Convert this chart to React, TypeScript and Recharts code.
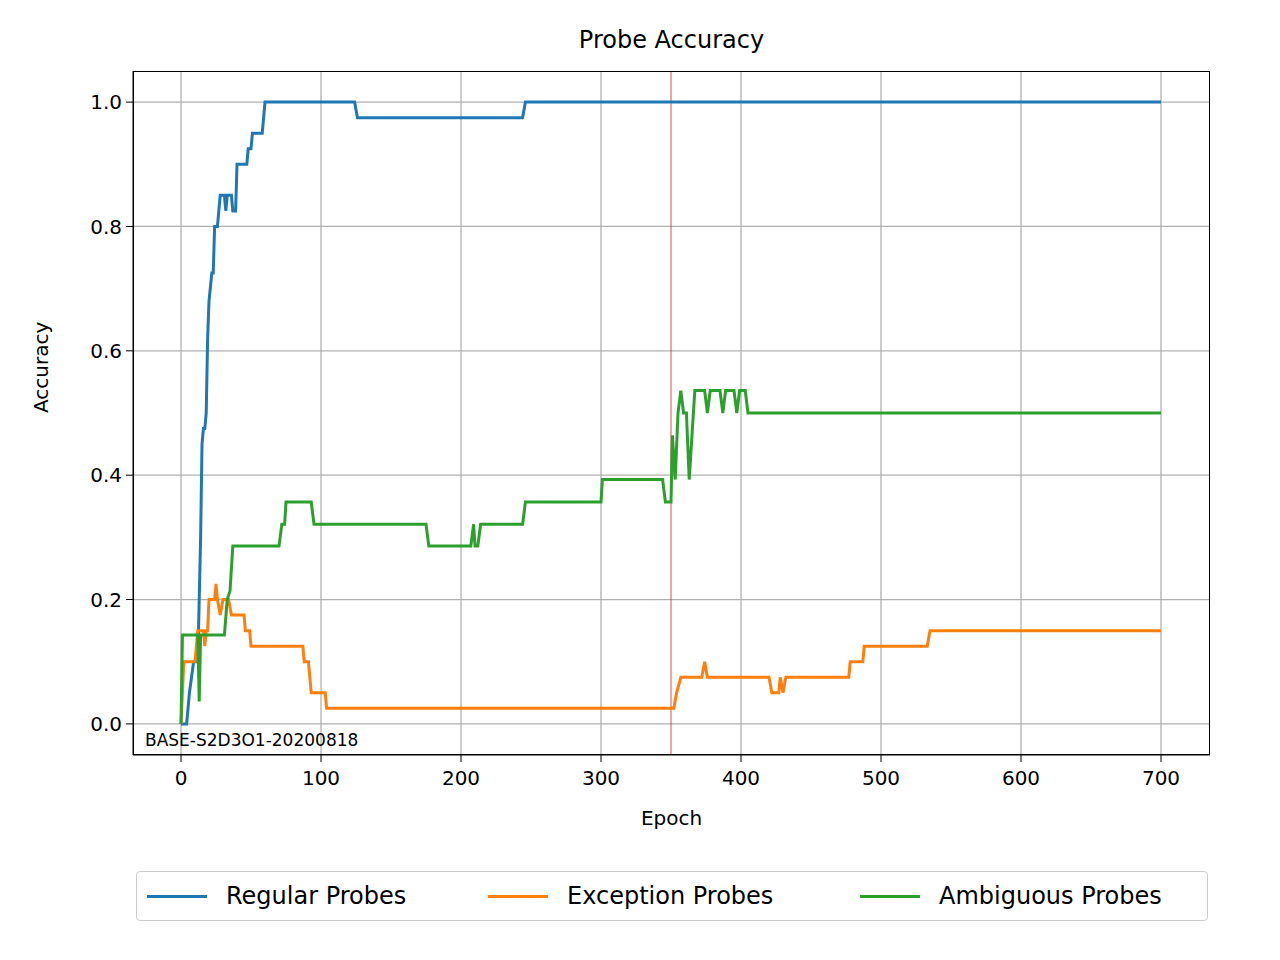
import { LineChart, Line, XAxis, YAxis, CartesianGrid, ReferenceLine } from 'recharts';

type Pt = { epoch: number; acc: number };
const mk = (pts: number[][]): Pt[] => pts.map(([epoch, acc]) => ({ epoch, acc }));

const regularProbes = mk([
  [0, 0], [4, 0], [6, 0.05], [9, 0.1], [12, 0.1], [14, 0.3], [15, 0.45], [16, 0.475], [17, 0.475],
  [18, 0.5], [19, 0.62], [20, 0.68], [22, 0.725], [23, 0.725], [24, 0.8], [26, 0.8], [28, 0.85],
  [31, 0.85], [32, 0.825], [33, 0.85], [36, 0.85], [37, 0.825], [39, 0.825], [40, 0.9], [47, 0.9],
  [48, 0.925], [50, 0.925], [51, 0.95], [58, 0.95], [60, 1.0], [124, 1.0], [126, 0.975],
  [244, 0.975], [246, 1.0], [700, 1.0],
]);

const exceptionProbes = mk([
  [0, 0], [2, 0.1], [10, 0.1], [11, 0.125], [12, 0.15], [16, 0.15], [17, 0.125], [18, 0.15],
  [19, 0.15], [20, 0.2], [24, 0.2], [25, 0.225], [26, 0.2], [28, 0.175], [30, 0.2], [34, 0.2],
  [36, 0.175], [45, 0.175], [46, 0.15], [49, 0.15], [50, 0.125], [87, 0.125], [88, 0.1], [91, 0.1],
  [93, 0.05], [103, 0.05], [104, 0.025], [352, 0.025], [354, 0.05], [357, 0.075], [372, 0.075],
  [374, 0.1], [376, 0.075], [420, 0.075], [422, 0.05], [427, 0.05], [428, 0.075], [430, 0.05],
  [432, 0.075], [477, 0.075], [478, 0.1], [487, 0.1], [488, 0.125], [533, 0.125], [535, 0.15],
  [700, 0.15],
]);

const ambiguousProbes = mk([
  [0, 0], [1, 0.143], [12, 0.143], [13, 0.036], [14, 0.143], [31, 0.143], [33, 0.2], [35, 0.214],
  [37, 0.286], [70, 0.286], [72, 0.321], [74, 0.321], [75, 0.357], [93, 0.357], [95, 0.321],
  [175, 0.321], [177, 0.286], [207, 0.286], [209, 0.321], [210, 0.286], [212, 0.286], [214, 0.321],
  [244, 0.321], [246, 0.357], [300, 0.357], [301, 0.393], [344, 0.393], [346, 0.357], [350, 0.357],
  [351, 0.464], [353, 0.393], [355, 0.5], [357, 0.536], [359, 0.5], [361, 0.5], [363, 0.393],
  [367, 0.536], [374, 0.536], [376, 0.5], [378, 0.536], [385, 0.536], [387, 0.5], [389, 0.536],
  [395, 0.536], [397, 0.5], [399, 0.536], [403, 0.536], [405, 0.5], [700, 0.5],
]);

const xTicks = [0, 100, 200, 300, 400, 500, 600, 700];
const yTicks = [0, 0.2, 0.4, 0.6, 0.8, 1.0];

const series = [
  { name: 'Regular Probes', data: regularProbes, color: '#1f77b4', left: 146 },
  { name: 'Exception Probes', data: exceptionProbes, color: '#ff7f0e', left: 487 },
  { name: 'Ambiguous Probes', data: ambiguousProbes, color: '#2ca02c', left: 859 },
];

const font = 'DejaVu Sans, sans-serif';
const tick = { fill: '#000', fontSize: 20, fontFamily: font };

export default function App() {
  return (
    <div style={{ position: 'absolute', left: 0, top: 0, width: 1280, height: 960, background: '#fff', fontFamily: font }}>
      <div style={{ position: 'absolute', top: 26, left: 133, width: 1077, textAlign: 'center', fontSize: 24 }}>
        Probe Accuracy
      </div>
      <LineChart width={1280} height={960} margin={{ top: 71, left: 63, right: 70, bottom: 145 }}>
        <CartesianGrid stroke="#b0b0b0" strokeWidth={1.3} horizontalValues={yTicks} verticalValues={xTicks} />
        <XAxis
          dataKey="epoch" type="number" domain={[-34.3, 735]} ticks={xTicks} allowDataOverflow
          height={60} tick={tick} tickSize={7} stroke="#000" tickMargin={9}
          label={{ value: 'Epoch', position: 'insideBottom', offset: -10, fill: '#000', fontSize: 20, fontFamily: font }}
        />
        <YAxis
          type="number" domain={[-0.05, 1.05]} ticks={yTicks} allowDataOverflow width={70}
          tick={tick} tickSize={7} stroke="#000" tickMargin={4} tickFormatter={(v: number) => v.toFixed(1)}
          label={{ value: 'Accuracy', angle: -90, position: 'insideLeft', offset: -22, fill: '#000', fontSize: 20, fontFamily: font }}
        />
        <ReferenceLine x={350} stroke="#d00000" strokeWidth={0.7} />
        {series.map((s) => (
          <Line key={s.name} data={s.data} dataKey="acc" name={s.name} type="linear" stroke={s.color}
            strokeWidth={3} dot={false} isAnimationActive={false} />
        ))}
      </LineChart>
      <div style={{ position: 'absolute', left: 133, top: 71, width: 1077, height: 684, border: '1.3px solid #000', boxSizing: 'border-box', pointerEvents: 'none' }} />
      <div style={{ position: 'absolute', left: 145, top: 730, fontSize: 17 }}>BASE-S2D3O1-20200818</div>
      <div style={{ position: 'absolute', left: 136, top: 871, width: 1072, height: 50, border: '1.5px solid #ccc', borderRadius: 4, boxSizing: 'border-box', fontSize: 24 }}>
        {series.map((s) => (
          <div key={s.name} style={{ position: 'absolute', left: s.left - 136, top: 0, height: 48, display: 'flex', alignItems: 'center' }}>
            <div style={{ width: 60, height: 3, background: s.color, marginRight: 19 }} />
            <span>{s.name}</span>
          </div>
        ))}
      </div>
    </div>
  );
}
